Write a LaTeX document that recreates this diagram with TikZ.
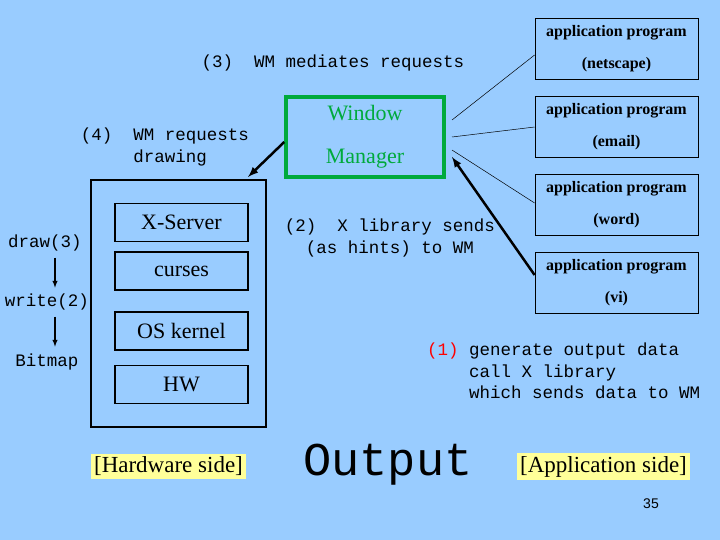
\documentclass[tikz,border=0pt]{standalone}
\usepackage{fontspec}
\setmainfont{Liberation Serif}
\setmonofont{Liberation Mono}
\setsansfont{Liberation Sans}
\usetikzlibrary{positioning}
\definecolor{slidebg}{RGB}{153,204,255}
\definecolor{wmgreen}{RGB}{0,170,60}
\definecolor{labelyellow}{RGB}{255,255,153}
\begin{document}
\begin{tikzpicture}[x=1pt,y=-1pt,
  appbox/.style={draw, line width=0.8pt, minimum width=163pt, minimum height=61pt, inner sep=0pt, align=center, font=\fontsize{16}{32}\selectfont\bfseries},
  hwbox/.style={draw, line width=1.6pt, minimum width=133pt, minimum height=38pt, font=\fontsize{22}{24}\selectfont},
  mono/.style={font=\ttfamily\fontsize{17.5}{21.5}\selectfont, align=left},
  sidelabel/.style={fill=labelyellow, inner sep=3pt, font=\fontsize{23}{25}\selectfont}]
\fill[slidebg] (0,0) rectangle (720,540);
\useasboundingbox (0,0) rectangle (720,540);
% application programs
\node[appbox] (netscape) at (616.5,48.5) {application program\\(netscape)};
\node[appbox] (email) at (616.5,127) {application program\\(email)};
\node[appbox] (word) at (616.5,205) {application program\\(word)};
\node[appbox] (vi) at (616.5,283) {application program\\(vi)};
% window manager
\node[draw=wmgreen, line width=3.5pt, minimum width=158pt, minimum height=80pt, inner sep=0pt, text=wmgreen, align=center,
  font=\fontsize{22}{43}\selectfont] (wm) at (365,137) {Window\\Manager};
\coordinate (wmA) at (452,120);
\coordinate (wmB) at (452,137);
\coordinate (wmC) at (452,150);
\coordinate (wmD) at (452,157);
% hardware side
\node[draw, line width=1.6pt, minimum width=175pt, minimum height=247pt] (hw) at (178.5,303.5) {};
\node[hwbox] (xserver) at (181.5,222.5) {X-Server};
\node[hwbox] (curses) at (181.5,271) {curses};
\node[hwbox] (kernel) at (181.5,331) {OS kernel};
\node[hwbox] (hwlayer) at (181.5,384.5) {HW};
% texts
\node[mono] (mediates) at (333,63) {(3)\ \ WM mediates requests};
\node[mono] (requests) at (165,147) {(4)\ \ WM requests\\\ \ \ \ \ drawing};
\node[mono, align=center] (hints) at (390,238) {(2)\ \ X library sends\\(as hints) to WM};
\node[mono, anchor=north west, inner sep=0pt] (generate) at (427,343) {\textcolor{red}{(1)} generate output data\\\ \ \ \ call X library\\\ \ \ \ which sends data to WM};
\node[mono] (draw) at (45,243) {draw(3)};
\node[mono] (write) at (47,302) {write(2)};
\node[mono] (bitmap) at (47,362) {Bitmap};
\node[font=\ttfamily\fontsize{47}{50}\selectfont] (output) at (388,465) {Output};
\node[sidelabel] (hwside) at (168.5,466.5) {[Hardware side]};
\node[sidelabel] (appside) at (603.5,466.5) {[Application\ side]};
\node[font=\sffamily\fontsize{14}{16}\selectfont] (page) at (651,504) {35};
% connectors
\draw[line width=0.5pt] (wmA) -- (netscape.west|-0,55);
\draw[line width=0.5pt] (wmB) -- (email.west);
\draw[line width=0.5pt] (wmC) -- (word.west|-0,203);
\draw[-latex, line width=2.5pt] (vi.west|-0,275) -- (wmD);
\draw[-latex, line width=2.5pt] (wm.west|-0,142) -- (248,177);
\draw[-latex, line width=1.3pt] (draw.south) ++(10,3) -- ++(0,30);
\draw[-latex, line width=1.3pt] (write.south) ++(8,3) -- ++(0,30);
\end{tikzpicture}
\end{document}
